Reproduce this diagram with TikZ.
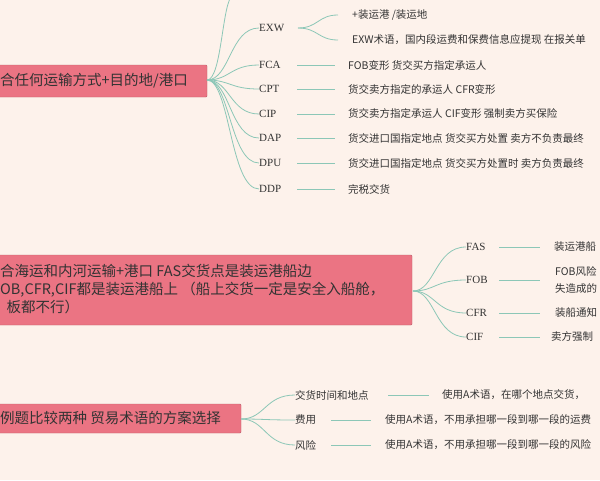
\documentclass[tikz,border=0pt]{standalone}
\usepackage{fontspec}
\setmainfont{Liberation Serif}
\newfontfamily\cjk{Noto Sans CJK SC}
\usetikzlibrary{positioning}
\definecolor{bgcol}{HTML}{FDF2EB}
\definecolor{boxcol}{HTML}{EB7483}
\definecolor{linecol}{HTML}{8CC7B7}
\definecolor{txtcol}{HTML}{333333}
\tikzset{
  bigbox/.style={fill=boxcol, draw=boxcol!80!black, rounded corners=1pt, inner sep=0pt},
  boxtext/.style={anchor=west, text=txtcol, font=\cjk\fontsize{14.5}{18}\selectfont, inner sep=0pt, align=left},
  termlabel/.style={anchor=west, text=txtcol, font=\fontsize{11}{12}\selectfont, inner sep=0pt},
  cjklabel/.style={anchor=west, text=txtcol, font=\cjk\fontsize{10.5}{12}\selectfont, inner sep=0pt},
  desc/.style={anchor=west, text=txtcol, font=\cjk\fontsize{10.5}{17}\selectfont, inner sep=0pt, align=left},
  branch/.style={draw=linecol, line width=0.8pt},
}
\begin{document}
\begin{tikzpicture}[x=1pt,y=-1pt]
  \fill[bgcol] (0,0) rectangle (600,480);
  \clip (0,0) rectangle (600,480);
  % first group
  \draw[bigbox] (-5,65) rectangle (207,97);
  \node[boxtext] (anyText) at (0,81) {合任何运输方式+目的地/港口};
  \coordinate (anyFork) at (207,80);
  \coordinate (topEnd) at (233,-5);
  \draw[branch] (anyFork) .. controls (222,80) and (222,0) .. (topEnd);
  \foreach \name/\y/\txt in {EXW/28/, FCA/65/FOB变形 货交买方指定承运人, CPT/89/货交卖方指定的承运人 CFR变形,
      CIP/114/货交卖方指定承运人 CIF变形 强制卖方买保险, DAP/138/货交进口国指定地点 货交买方处置 卖方不负责最终,
      DPU/163/货交进口国指定地点 货交买方处置时 卖方负责最终, DDP/189/完税交货} {
    \node[termlabel] (\name) at (259,\y) {\name};
    \draw[branch] (anyFork) .. controls (230,80) and (230,\y) .. (\name.west);
    \ifx\txt\empty\else
      \node[desc] (\name txt) at (348,\y) {\txt};
      \draw[branch] (297,\y) coordinate (\name a) -- (335,\y) coordinate (\name b);
    \fi
  }
  \coordinate (exwFork) at (298,28);
  \node[desc] (exwA) at (352,15) {+装运港 /装运地};
  \node[desc] (exwB) at (352,40) {EXW术语，国内段运费和保费信息应提现 在报关单};
  \draw[branch] (exwFork) .. controls (318,28) and (318,15) .. (338,15);
  \draw[branch] (exwFork) .. controls (318,28) and (318,40) .. (338,40);
  % second group
  \draw[bigbox] (-5,255) rectangle (412,325);
  \node[boxtext] (seaText) at (0,289) {合海运和内河运输+港口 FAS交货点是装运港船边\\OB,CFR,CIF都是装运港船上 （船上交货一定是安全入船舱，\\\ \ 板都不行）};
  \coordinate (seaFork) at (413,291);
  \foreach \name/\y in {FAS/247, FOB/280, CFR/313, CIF/337} {
    \node[termlabel] (\name) at (466,\y) {\name};
    \draw[branch] (seaFork) .. controls (435,291) and (435,\y) .. (\name.west);
    \draw[branch] (499,\y) coordinate (\name a) -- (540,\y) coordinate (\name b);
  }
  \node[desc] (FAStxt) at (554,247) {装运港船};
  \node[desc] (FOBtxt) at (555,280) {FOB风险\\失造成的};
  \node[desc] (CFRtxt) at (555,313) {装船通知};
  \node[desc] (CIFtxt) at (551,337) {卖方强制};
  % third group
  \draw[bigbox] (-5,404) rectangle (241,433);
  \node[boxtext] (caseText) at (0,418) {例题比较两种 贸易术语的方案选择};
  \coordinate (caseFork) at (241,419);
  \foreach \n/\y/\t in {place/395/交货时间和地点, cost/420/费用, risk/445/风险} {
    \node[cjklabel] (\n) at (295,\y) {\t};
    \draw[branch] (caseFork) .. controls (265,419) and (265,\y) .. (\n.west);
  }
  \draw[branch] (388,395) coordinate (placeA) -- (429,395) coordinate (placeB);
  \draw[branch] (331,420) coordinate (costA) -- (371,420) coordinate (costB);
  \draw[branch] (331,445) coordinate (riskA) -- (371,445) coordinate (riskB);
  \node[desc] (placeTxt) at (442,395) {使用A术语，在哪个地点交货，};
  \node[desc] (costTxt) at (385,420) {使用A术语，不用承担哪一段到哪一段的运费};
  \node[desc] (riskTxt) at (385,445) {使用A术语，不用承担哪一段到哪一段的风险};
\end{tikzpicture}
\end{document}
